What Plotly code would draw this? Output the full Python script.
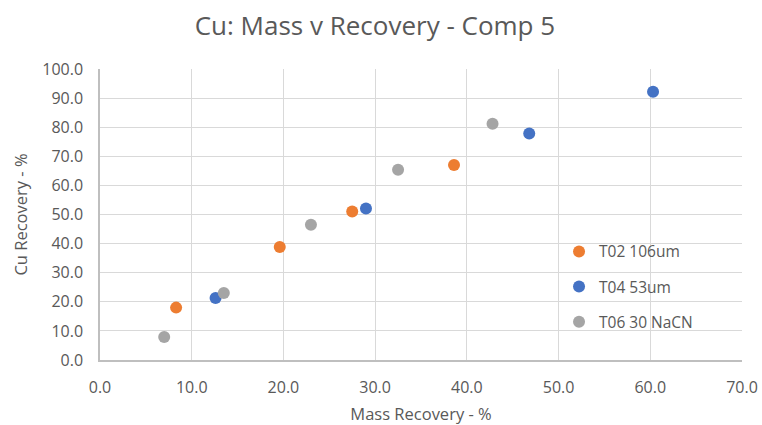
import plotly.graph_objects as go

series_names = ["T02 106um", "T04 53um", "T06 30 NaCN"]
t02_mass = [8.3, 19.6, 27.5, 38.6]
t02_cu = [18.0, 38.8, 51.0, 67.0]
t04_mass = [12.6, 29.0, 46.8, 60.3]
t04_cu = [21.3, 52.1, 77.8, 92.2]
t06_mass = [7.0, 13.5, 23.0, 32.5, 42.8]
t06_cu = [7.9, 23.0, 46.5, 65.4, 81.2]
colors = ["#ED7D31", "#4472C4", "#A5A5A5"]

FONT = "Open Sans, sans-serif"
TXT = "#595959"

fig = go.Figure()
for i, (name, xs, ys) in enumerate(zip(series_names,
                                        [t02_mass, t04_mass, t06_mass],
                                        [t02_cu, t04_cu, t06_cu])):
    fig.add_trace(go.Scatter(x=xs, y=ys, mode="markers", name=name,
                             legendgroup=f"g{i}",
                             marker=dict(color=colors[i], size=12)))

fig.update_layout(
    width=762, height=425,
    margin=dict(l=100, r=20, t=69, b=65, autoexpand=False),
    paper_bgcolor="white", plot_bgcolor="white",
    font=dict(family=FONT, color=TXT, size=15),
    title=dict(text="Cu: Mass v Recovery - Comp 5", x=0.492, xanchor="center",
               y=0.94, yanchor="middle",
               font=dict(family=FONT, size=26, color=TXT)),
    legend=dict(x=0.715, y=0.43, xanchor="left", yanchor="top",
                bgcolor="rgba(0,0,0,0)", tracegroupgap=12,
                font=dict(family=FONT, size=15.5, color=TXT)),
    showlegend=True,
)
fig.update_xaxes(range=[0, 70], dtick=10, tickformat=".1f", automargin=False,
                 showgrid=True, gridcolor="#d9d9d9", gridwidth=1,
                 showline=True, linecolor="#bfbfbf", linewidth=1.5,
                 zeroline=False, ticks="", ticklabelstandoff=12,
                 title=dict(text="Mass Recovery - %", standoff=12,
                            font=dict(family=FONT, size=16.5, color=TXT)),
                 tickfont=dict(family=FONT, size=16, color=TXT))
fig.update_yaxes(range=[0, 100], dtick=10, tickformat=".1f", automargin=False,
                 showgrid=True, gridcolor="#d9d9d9", gridwidth=1,
                 showline=True, linecolor="#bfbfbf", linewidth=1.5,
                 zeroline=False, ticks="", ticklabelstandoff=12,
                 title=dict(text="Cu Recovery - %", standoff=10,
                            font=dict(family=FONT, size=16.5, color=TXT)),
                 tickfont=dict(family=FONT, size=16, color=TXT))

fig.write_html("out.html")
